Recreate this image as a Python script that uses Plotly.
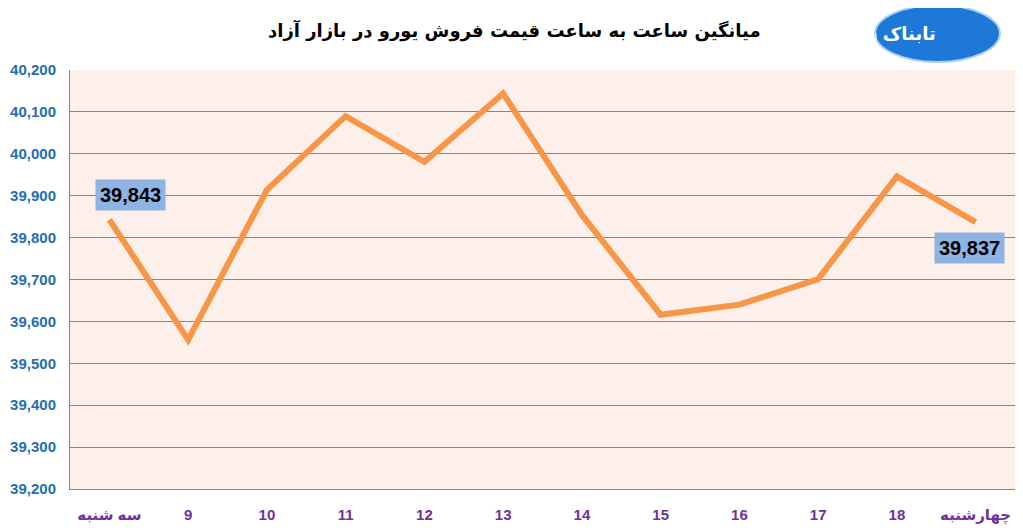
import plotly.graph_objects as go

categories = ["سه شنبه", "9", "10", "11", "12", "13", "14", "15", "16", "17", "18", "چهارشنبه"]
prices = [39843, 39556, 39914, 40090, 39981, 40144, 39854, 39616, 39640, 39701, 39946, 39837]
y_ticks = [39200, 39300, 39400, 39500, 39600, 39700, 39800, 39900, 40000, 40100, 40200]
title_text = "میانگین ساعت به ساعت قیمت فروش یورو در بازار آزاد"

fig = go.Figure()
fig.add_trace(go.Scatter(
    x=categories, y=prices, mode="lines",
    line=dict(color="#F79646", width=6),
    hoverinfo="skip", showlegend=False,
))

label_font = dict(family="Liberation Sans, DejaVu Sans", size=20, color="black")
fig.add_annotation(x=categories[0], y=prices[0], text="<b>39,843</b>", showarrow=False,
                   bgcolor="#8DB4E2", font=label_font, xshift=21, yshift=25,
                   borderpad=4)
fig.add_annotation(x=categories[-1], y=prices[-1], text="<b>39,837</b>", showarrow=False,
                   bgcolor="#8DB4E2", font=label_font, xshift=-6, yshift=-26,
                   borderpad=4)

fig.add_annotation(xref="paper", yref="paper", x=0.47, y=1.0, yshift=40, yanchor="middle",
                   text="<b>" + title_text + "</b>", showarrow=False,
                   font=dict(family="DejaVu Sans", size=18, color="black"))

# logo approximation
fig.add_shape(type="circle", xref="paper", yref="paper",
              x0=0.852, x1=0.984, y0=1.019, y1=1.155,
              fillcolor="#1E78D8", line=dict(color="#A8CFF5", width=2), layer="above")
fig.add_annotation(xref="paper", yref="paper", x=0.918, y=1.087, yanchor="middle",
                   text="<b>تابناک</b> <span style='font-size:9px'>اقتصادی</span>",
                   showarrow=False, font=dict(family="DejaVu Sans", size=18, color="white"))

fig.update_layout(
    width=1015, height=522,
    margin=dict(l=62, r=8, t=62, b=41),
    paper_bgcolor="white", plot_bgcolor="#FDEFE9",
    xaxis=dict(
        type="category", range=[-0.5, 11.5], automargin=False,
        showgrid=False, showline=True, linecolor="#868686", linewidth=1,
        ticks="", ticklabelstandoff=12,
        tickfont=dict(family="Liberation Sans Narrow, Liberation Sans, DejaVu Sans", size=15, color="#7030A0"),
        tickprefix="<b>", ticksuffix="</b>",
    ),
    yaxis=dict(
        range=[39200, 40200], tickvals=y_ticks, automargin=False,
        ticktext=["<b>{:,}</b>".format(v) for v in y_ticks],
        showgrid=True, gridcolor="#868686", gridwidth=1,
        showline=True, linecolor="#868686", linewidth=1,
        zeroline=False, ticks="", ticklabelstandoff=10,
        tickfont=dict(family="Liberation Sans Narrow, Liberation Sans", size=15, color="#1F6EB5"),
    ),
)

fig.write_html("out.html")
